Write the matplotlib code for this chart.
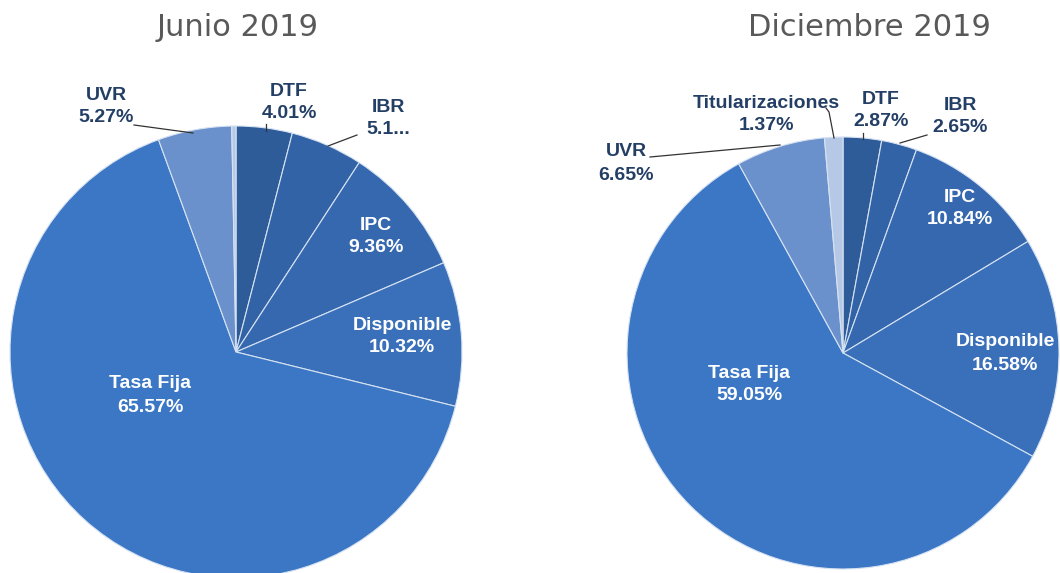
import matplotlib.pyplot as plt
import numpy as np

# data (clockwise from the top)
labels = ['DTF', 'IBR', 'IPC', 'Disponible', 'Tasa Fija', 'UVR', 'Titularizaciones']
junio = [4.01, 5.17, 9.36, 10.32, 65.57, 5.27, 0.30]
diciembre = [2.87, 2.65, 10.84, 16.58, 59.05, 6.65, 1.37]
junio_txt = ['4.01%', '5.1...', '9.36%', '10.32%', '65.57%', '5.27%', None]
dic_txt = ['2.87%', '2.65%', '10.84%', '16.58%', '59.05%', '6.65%', '1.37%']

colors = ['#2d5c99', '#3263a6', '#3568af', '#3a70b9', '#3b77c4', '#6a91cb', '#b5c9e7']

H = 573
fig = plt.figure(figsize=(10.6, 5.73), dpi=100)
ax = fig.add_axes([0, 0, 1, 1])
ax.axis('off')

def y(p):
    return H - p

# pies: center (px), radius (px)
ax.pie(junio, colors=colors, startangle=90, counterclock=False,
       center=(236, y(352)), radius=226,
       wedgeprops=dict(edgecolor='#d6e2f2', linewidth=0.8))
ax.pie(diciembre, colors=colors, startangle=90, counterclock=False,
       center=(843, y(353)), radius=216,
       wedgeprops=dict(edgecolor='#d6e2f2', linewidth=0.8))
ax.set_xlim(0, 1060)
ax.set_ylim(0, H)
ax.set_aspect('equal')

# label positions (px): name at first y, value below
pos_j = [(289, 92, 114), (388, 107, 130), (376, 225, 247), (402, 325, 348),
         (150, 383, 407), (106, 95, 118), None]
pos_d = [(881, 100, 122), (960, 105, 127), (960, 198, 220), (1005, 342, 366),
         (749, 373, 396), (626, 152, 175), (766, 103, 125)]
inside = [False, False, True, True, True, False, False]

def put_labels(pos, txt):
    for i, p in enumerate(pos):
        if p is None:
            continue
        c = 'white' if inside[i] else '#243f66'
        ax.text(p[0], y(p[1]), labels[i], ha='center', va='center', color=c,
                fontsize=14, fontweight='bold', family='Liberation Sans')
        ax.text(p[0], y(p[2]), txt[i], ha='center', va='center', color=c,
                fontsize=14, fontweight='bold', family='Liberation Sans')

put_labels(pos_j, junio_txt)
put_labels(pos_d, dic_txt)

# leader lines
lines = [
    [(134, 125), (193, 133)],
    [(266, 124), (266, 131)],
    [(328, 146), (357, 135)],
    [(650, 157), (780, 145)],
    [(826, 108), (829, 112), (834, 138)],
    [(863, 133), (863, 139)],
    [(900, 143), (927, 135)],
]
for ln in lines:
    xs = [p[0] for p in ln]
    ys = [y(p[1]) for p in ln]
    ax.plot(xs, ys, color='#333333', linewidth=0.9)

fig.text(238 / 1060, 1 - 28 / H, 'Junio 2019', ha='center', va='center',
         fontsize=22, color='#595959', family='DejaVu Sans')
fig.text(869 / 1060, 1 - 28 / H, 'Diciembre 2019', ha='center', va='center',
         fontsize=22, color='#595959', family='DejaVu Sans')

fig.savefig('out.png', dpi=100)
